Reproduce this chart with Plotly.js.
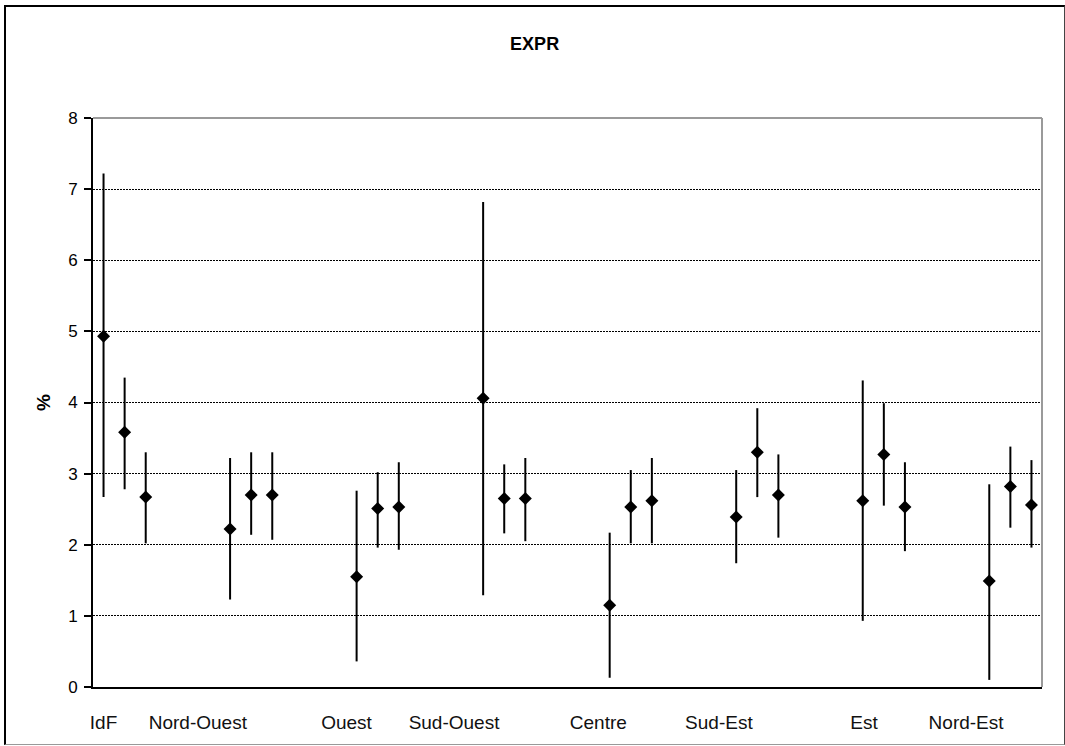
<!DOCTYPE html>
<html>
<head>
<meta charset="utf-8">
<script src="https://cdn.plot.ly/plotly-3.0.1.min.js"></script>
<style>
  html, body { margin: 0; padding: 0; background: #fff; }
  #chart { width: 1065px; height: 746px; position: relative; }
  #frame { position: absolute; left: 4px; top: 5px; width: 1061px; height: 740px; box-sizing: border-box;
           border-left: 2px solid #000; border-top: 2px solid #000; border-right: 1px solid #444; border-bottom: 1px solid #999;
           pointer-events: none; }
</style>
</head>
<body>
<div id="chart"></div>
<div id="frame"></div>
<script>
// Regions (category labels)
const regions = ["IdF", "Nord-Ouest", "Ouest", "Sud-Ouest", "Centre", "Sud-Est", "Est", "Nord-Est"];
// Tick label positions on the category-slot axis
const labelPos = [0.0, 4.47, 11.52, 16.62, 23.46, 29.18, 36.06, 40.9];

// Estimates (3 per region), upper and lower interval bounds, in %
const estimate = [
  4.93, 3.58, 2.67,
  2.22, 2.70, 2.70,
  1.55, 2.51, 2.53,
  4.06, 2.65, 2.65,
  1.15, 2.53, 2.62,
  2.39, 3.30, 2.70,
  2.62, 3.27, 2.53,
  1.49, 2.82, 2.56
];
const upper = [
  7.22, 4.35, 3.30,
  3.22, 3.30, 3.30,
  2.76, 3.02, 3.16,
  6.82, 3.13, 3.22,
  2.17, 3.05, 3.22,
  3.05, 3.92, 3.27,
  4.31, 3.99, 3.16,
  2.85, 3.38, 3.19
];
const lower = [
  2.67, 2.78, 2.02,
  1.23, 2.14, 2.07,
  0.36, 1.96, 1.93,
  1.29, 2.16, 2.05,
  0.13, 2.02, 2.02,
  1.74, 2.67, 2.10,
  0.93, 2.55, 1.91,
  0.10, 2.24, 1.96
];
const yTicks = [0, 1, 2, 3, 4, 5, 6, 7, 8];

// each region takes 6 slots: 3 estimates then 3 empty
const xs = estimate.map((_, i) => Math.floor(i / 3) * 6 + (i % 3));
const errPlus = estimate.map((v, i) => upper[i] - v);
const errMinus = estimate.map((v, i) => v - lower[i]);

const FONT = '"Liberation Sans", Arial, sans-serif';

const trace = {
  type: 'scatter',
  mode: 'markers',
  x: xs,
  y: estimate,
  marker: { symbol: 'diamond', size: 10, color: '#000' },
  error_y: { type: 'data', symmetric: false, array: errPlus, arrayminus: errMinus,
             color: '#000', thickness: 2, width: 0 },
  hoverinfo: 'x+y',
  showlegend: false
};

const layout = {
  width: 1065, height: 746,
  margin: { l: 93, r: 23, t: 118, b: 59 },
  paper_bgcolor: '#fff', plot_bgcolor: '#fff',
  font: { family: FONT, color: '#000', size: 17 },
  title: { text: '<b>EXPR</b>', x: 0.502, xref: 'container', xanchor: 'center', y: 0.942, yref: 'container', yanchor: 'middle',
           font: { family: FONT, size: 18, color: '#000' } },
  xaxis: {
    range: [-0.5, 44.5], showgrid: false, zeroline: false,
    showline: true, linecolor: '#000', linewidth: 2,
    tickmode: 'array', tickvals: labelPos, ticktext: regions,
    ticks: '', ticklabelstandoff: 17,
    tickfont: { family: FONT, size: 19, color: '#111' }
  },
  yaxis: {
    range: [0, 8], zeroline: false,
    showline: true, linecolor: '#000', linewidth: 2,
    tickmode: 'array', tickvals: yTicks,
    ticks: 'outside', ticklen: 7, tickwidth: 2, tickcolor: '#000',
    ticklabelstandoff: 3,
    tickfont: { family: FONT, size: 17, color: '#000' },
    showgrid: true, gridcolor: '#000', gridwidth: 1, griddash: '2px,1px',
    title: { text: '<b>%</b>', standoff: 12, font: { family: FONT, size: 19, color: '#000' } }
  },
  shapes: [
    { type: 'line', xref: 'paper', yref: 'paper', x0: 0, x1: 1, y0: 1, y1: 1, line: { color: '#9a9a9a', width: 2 }, layer: 'above' },
    { type: 'line', xref: 'paper', yref: 'paper', x0: 1, x1: 1, y0: 0, y1: 1, line: { color: '#9a9a9a', width: 2 }, layer: 'above' }
  ]
};

Plotly.newPlot('chart', [trace], layout, { displayModeBar: false, staticPlot: true });
</script>
</body>
</html>
